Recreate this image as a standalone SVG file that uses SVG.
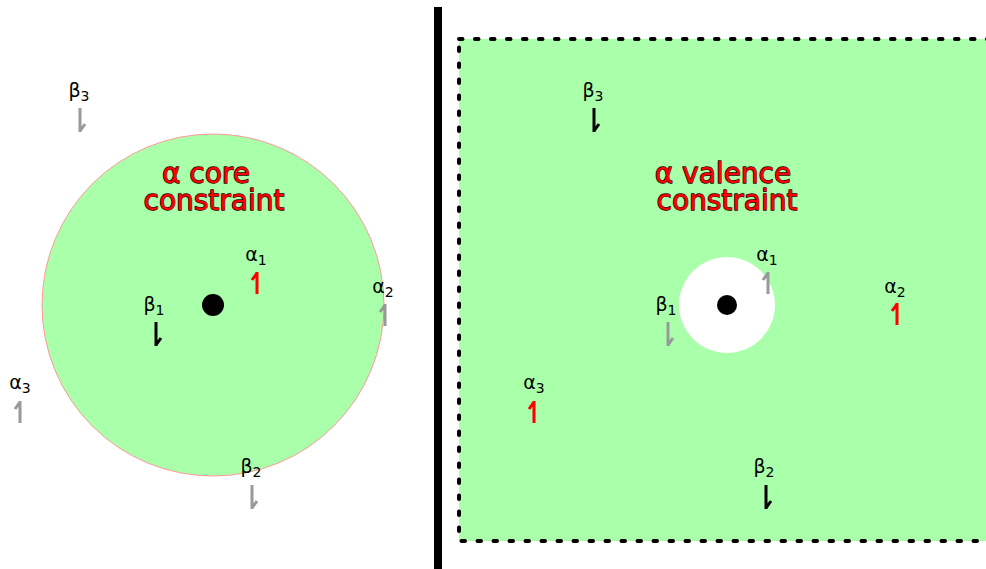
<svg xmlns="http://www.w3.org/2000/svg" width="986" height="569" viewBox="0 0 986 569">
<style>
.lbl{font-family:"DejaVu Sans",sans-serif;font-size:19px;fill:#000;text-anchor:middle}
.sub{font-size:14px}
.head{font-family:"DejaVu Sans",sans-serif;font-size:28px;fill:#ff0000;stroke:#200000;stroke-width:1.3;paint-order:stroke;stroke-linejoin:round;text-anchor:middle}
.red{stroke:#ff0000}
.gray{stroke:#999999}
.blk{stroke:#000000}
use{fill:none;stroke-width:3}
</style>
<defs>
<path id="au" d="M0,0V22M0,1L-5,8"/>
<path id="bd" d="M0,0V24M0,23L5,16"/>
</defs>
<rect width="986" height="569" fill="#fff"/>
<g id="core-region">
<circle cx="213" cy="305" r="171" fill="#aaffaa" stroke="#ff9999" stroke-width="1"/>
<circle cx="213" cy="305" r="11" fill="#000"/>
<text class="head"><tspan x="206" y="183">α core</tspan><tspan x="214" y="210">constraint</tspan></text>
</g>
<g id="divider"><rect x="434" y="7" width="8" height="562" fill="#000"/></g>
<g id="valence-region">
<rect x="459" y="39" width="560" height="502" fill="#aaffaa" stroke="#000" stroke-width="4" stroke-dasharray="3.5 12.5" stroke-linecap="round"/>
<circle cx="727" cy="305" r="48" fill="#fff"/>
<circle cx="727" cy="305" r="10" fill="#000"/>
<text class="head"><tspan x="723" y="183">α valence</tspan><tspan x="727" y="210">constraint</tspan></text>
</g>
<g id="L-beta3"><text class="lbl" x="79" y="97">β<tspan class="sub" dy="4">3</tspan></text><use href="#bd" class="gray" x="80" y="108"/></g>
<g id="L-alpha1"><text class="lbl" x="256" y="261">α<tspan class="sub" dy="4">1</tspan></text><use href="#au" class="red" x="257" y="272"/></g>
<g id="L-alpha2"><text class="lbl" x="383" y="293">α<tspan class="sub" dy="4">2</tspan></text><use href="#au" class="gray" x="385" y="304"/></g>
<g id="L-beta1"><text class="lbl" x="154" y="311">β<tspan class="sub" dy="4">1</tspan></text><use href="#bd" class="blk" x="156" y="322"/></g>
<g id="L-alpha3"><text class="lbl" x="20" y="389">α<tspan class="sub" dy="4">3</tspan></text><use href="#au" class="gray" x="20" y="401"/></g>
<g id="L-beta2"><text class="lbl" x="251" y="473">β<tspan class="sub" dy="4">2</tspan></text><use href="#bd" class="gray" x="252" y="485"/></g>
<g id="R-beta3"><text class="lbl" x="593" y="97">β<tspan class="sub" dy="4">3</tspan></text><use href="#bd" class="blk" x="594" y="108"/></g>
<g id="R-alpha1"><text class="lbl" x="767" y="261">α<tspan class="sub" dy="4">1</tspan></text><use href="#au" class="gray" x="768" y="272"/></g>
<g id="R-beta1"><text class="lbl" x="666" y="311">β<tspan class="sub" dy="4">1</tspan></text><use href="#bd" class="gray" x="668" y="322"/></g>
<g id="R-alpha2"><text class="lbl" x="895" y="293">α<tspan class="sub" dy="4">2</tspan></text><use href="#au" class="red" x="897" y="303"/></g>
<g id="R-alpha3"><text class="lbl" x="534" y="389">α<tspan class="sub" dy="4">3</tspan></text><use href="#au" class="red" x="534" y="401"/></g>
<g id="R-beta2"><text class="lbl" x="764" y="473">β<tspan class="sub" dy="4">2</tspan></text><use href="#bd" class="blk" x="766" y="485"/></g>
</svg>
